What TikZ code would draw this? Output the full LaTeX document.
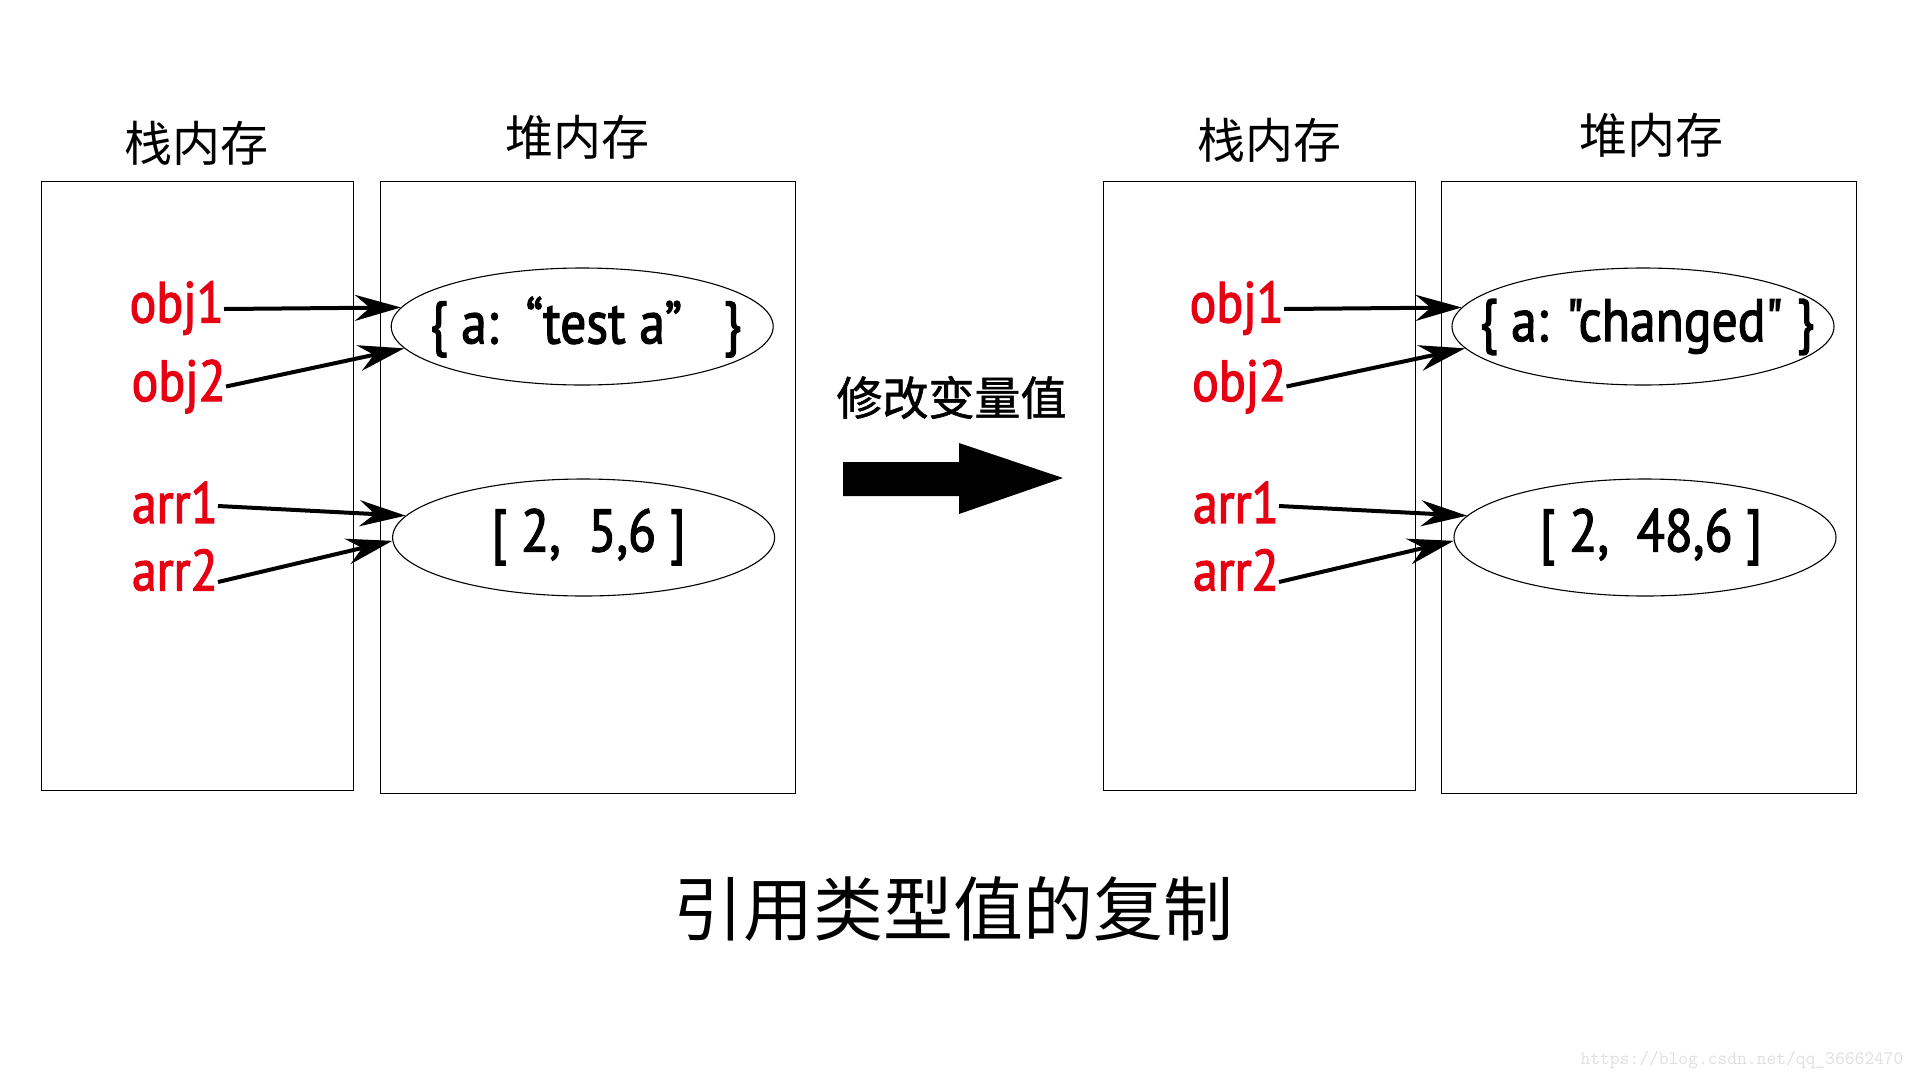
\documentclass[tikz,border=0pt]{standalone}
\usepackage{fontspec}
\usetikzlibrary{arrows.meta,shapes.geometric}
\newfontfamily\cjk{Noto Sans CJK SC}
\newfontfamily\cjkb[FakeBold=1.2]{Noto Sans CJK SC}
\newfontfamily\lab[FakeStretch=0.86,FakeBold=2]{PT Sans}
\definecolor{labred}{RGB}{230,0,18}
\begin{document}
\begin{tikzpicture}[x=1pt,y=-1pt,
  box/.style={draw, line width=1.3pt, inner sep=0pt, anchor=north west},
  blob/.style={draw, ellipse, line width=1.1pt, minimum width=382pt, minimum height=117pt, inner sep=0pt},
  var/.style={font=\lab\fontsize{58}{60}\selectfont, text=labred, inner sep=0pt, anchor=east},
  val/.style={font=\lab\fontsize{60}{62}\selectfont, inner sep=0pt},
  ptr/.style={-{Stealth[length=46pt,width=26pt,inset=15pt]}, line width=4pt},
  head/.style={font=\cjk\fontsize{48}{50}\selectfont, inner sep=0pt}]
\fill[white] (0,0) rectangle (1920,1080);
\useasboundingbox (0,0) rectangle (1920,1080);

% boxes
\node[box, minimum width=312pt, minimum height=609pt] (stackL) at (41,181) {};
\node[box, minimum width=415pt, minimum height=612pt] (heapL) at (379.5,181) {};
\node[box, minimum width=312pt, minimum height=609pt] (stackR) at (1102.5,181) {};
\node[box, minimum width=415.5pt, minimum height=612pt] (heapR) at (1440.5,181) {};

% headers
\node[head] (tsL) at (196.5,143) {栈内存};
\node[head] (thL) at (577,137) {堆内存};
\node[head] (tsR) at (1269,140) {栈内存};
\node[head] (thR) at (1651,135) {堆内存};

% ellipses
\node[blob] (e1) at (582.2,326.5) {};
\node[blob] (e2) at (583.6,537.5) {};
\node[blob] (e3) at (1643,326.5) {};
\node[blob] (e4) at (1645,537.5) {};

\node[val] (v1) at (585.5,327) {\{ a:\ \ “test a”\ \ \ \}};
\node[val] (v2) at (588.6,537) {[ 2,\ \ 5,6 ]};
\node[val] (v3) at (1647,327) {\{ a: "changed" \}};
\node[val] (v4) at (1651,537) {[ 2,\ \ 48,6 ]};

% variable labels
\node[var] (o1) at (224,308) {obj1};
\node[var] (o2) at (226,386.5) {obj2};
\node[var] (a1) at (218,502.5) {arr1};
\node[var] (a2) at (218,570) {arr2};
\node[var] (o1r) at (1284,308) {obj1};
\node[var] (o2r) at (1286.5,386.5) {obj2};
\node[var] (a1r) at (1279,502.5) {arr1};
\node[var] (a2r) at (1279,570) {arr2};

% pointers
\draw[ptr] ([yshift=-1pt]o1.east) -- (e1.174.6);
\draw[ptr] (o2.east) -- (e1.187);
\draw[ptr] ([yshift=-3.5pt]a1.east) -- (e2.173.7);
\draw[ptr] ([yshift=-12pt]a2.east) -- (e2.181.6);
\draw[ptr] ([yshift=-1pt]o1r.east) -- (e3.174.6);
\draw[ptr] (o2r.east) -- (e3.187);
\draw[ptr] ([yshift=-3.5pt]a1r.east) -- (e4.173.7);
\draw[ptr] ([yshift=-12pt]a2r.east) -- (e4.181.6);

% middle
\node[font=\cjkb\fontsize{46}{48}\selectfont, inner sep=0pt] (mod) at (951.5,397.5) {修改变量值};
\fill (843,462) -- (959,462) -- (959,443) -- (1063,478) -- (959,514) -- (959,496) -- (843,496) -- cycle;

% caption
\node[font=\cjk\fontsize{70}{72}\selectfont, inner sep=0pt] (cap) at (953,909) {引用类型值的复制};
\node[font=\ttfamily\fontsize{19}{20}\selectfont, text=black!12, inner sep=0pt] (wm) at (1742,1060) {https://blog.csdn.net/qq\_36662470};
\end{tikzpicture}
\end{document}
